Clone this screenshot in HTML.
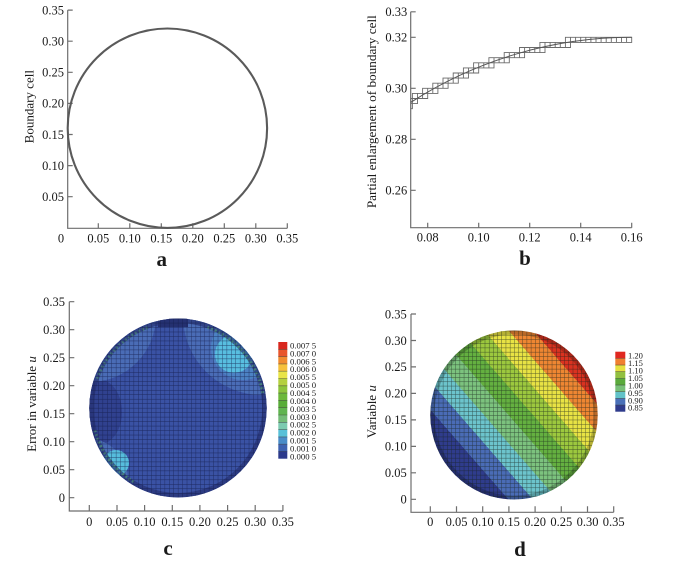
<!DOCTYPE html>
<html><head><meta charset="utf-8">
<style>
html,body{margin:0;padding:0;background:#fff;width:689px;height:563px;overflow:hidden}
svg{display:block}
text{font-family:"Liberation Serif",serif;fill:#1a1a1a}
.t{font-size:12.5px}
.ax{stroke:#6e6e6e;stroke-width:1.2;fill:none}
.lg{font-size:8.7px}
.ld{font-size:8.5px}
.big{font-size:21px;font-weight:bold}
</style></head>
<body>
<svg width="689" height="563" viewBox="0 0 689 563" xmlns="http://www.w3.org/2000/svg">
<defs>
  <clipPath id="cc"><ellipse cx="178" cy="408" rx="88.7" ry="89.5"/></clipPath>
  <clipPath id="cd"><ellipse cx="514" cy="415" rx="83.7" ry="84.5"/></clipPath>
  <clipPath id="cb"><rect x="410.7" y="0" width="230" height="228"/></clipPath>
  <pattern id="gc" patternUnits="userSpaceOnUse" x="89.3" y="318.3" width="4.43" height="4.48">
    <path d="M0 0H4.43M0 0V4.48" stroke="#121a48" stroke-width="0.9" stroke-opacity="0.75" fill="none"/>
  </pattern>
  <pattern id="gd" patternUnits="userSpaceOnUse" x="430.3" y="330.7" width="4.19" height="4.24">
    <path d="M0 0H4.19M0 0V4.24" stroke="#15201a" stroke-width="0.9" stroke-opacity="0.7" fill="none"/>
  </pattern>
  <linearGradient id="ud" gradientUnits="userSpaceOnUse" x1="450.65" y1="470.12" x2="577.35" y2="359.88">
    <stop offset="0" stop-color="#2f3c8c"/><stop offset="0.1446" stop-color="#2f3c8c"/>
    <stop offset="0.1446" stop-color="#4a6cb6"/><stop offset="0.2550" stop-color="#4a6cb6"/>
    <stop offset="0.2550" stop-color="#6cc4cc"/><stop offset="0.3651" stop-color="#6cc4cc"/>
    <stop offset="0.3651" stop-color="#7cc27e"/><stop offset="0.4753" stop-color="#7cc27e"/>
    <stop offset="0.4753" stop-color="#64b040"/><stop offset="0.5855" stop-color="#64b040"/>
    <stop offset="0.5855" stop-color="#9cc83e"/><stop offset="0.6957" stop-color="#9cc83e"/>
    <stop offset="0.6957" stop-color="#e8e244"/><stop offset="0.8059" stop-color="#e8e244"/>
    <stop offset="0.8059" stop-color="#ee8632"/><stop offset="0.9162" stop-color="#ee8632"/>
    <stop offset="0.9162" stop-color="#da3220"/><stop offset="1" stop-color="#da3220"/>
  </linearGradient>
</defs>

<!-- ================= Panel a ================= -->
<path class="ax" d="M67.7 10.1V228.3H287.3"/>
<path class="ax" d="M67.7 196.7h5M67.7 165.6h5M67.7 134.5h5M67.7 103.4h5M67.7 72.3h5M67.7 41.2h5M67.7 10.1h5
 M98.3 228.3v-5M129.8 228.3v-5M161.3 228.3v-5M192.8 228.3v-5M224.3 228.3v-5M255.8 228.3v-5M287.3 228.3v-5"/>
<g class="t" text-anchor="end">
<text x="64" y="201">0.05</text><text x="64" y="169.9">0.10</text><text x="64" y="138.8">0.15</text>
<text x="64" y="107.7">0.20</text><text x="64" y="76.6">0.25</text><text x="64" y="45.5">0.30</text><text x="64" y="14.4">0.35</text>
</g>
<g class="t" text-anchor="middle">
<text x="61" y="242.6">0</text><text x="98.3" y="242.6">0.05</text><text x="129.8" y="242.6">0.10</text><text x="161.3" y="242.6">0.15</text>
<text x="192.8" y="242.6">0.20</text><text x="224.3" y="242.6">0.25</text><text x="255.8" y="242.6">0.30</text><text x="287.3" y="242.6">0.35</text>
</g>
<text x="0" y="0" transform="translate(33.5,106.7) rotate(-90)" text-anchor="middle" font-size="13">Boundary cell</text>
<circle cx="167.4" cy="128.2" r="99.7" fill="none" stroke="#5a5a5a" stroke-width="2.1"/>
<text class="big" x="161.7" y="266" text-anchor="middle">a</text>

<!-- ================= Panel b ================= -->
<path class="ax" d="M410.7 11.8V227.7H631.7"/>
<path class="ax" d="M410.7 11.8h5M410.7 37.3h5M410.7 88.3h5M410.7 139.3h5M410.7 190.3h5
 M427.7 227.7v-5M478.7 227.7v-5M529.7 227.7v-5M580.7 227.7v-5M631.7 227.7v-5"/>
<g class="t" text-anchor="end">
<text x="407.3" y="16.1">0.33</text><text x="407.3" y="41.6">0.32</text><text x="407.3" y="92.6">0.30</text>
<text x="407.3" y="143.6">0.28</text><text x="407.3" y="194.6">0.26</text>
</g>
<g class="t" text-anchor="middle">
<text x="427.7" y="241.6">0.08</text><text x="478.7" y="241.6">0.10</text><text x="529.7" y="241.6">0.12</text>
<text x="580.7" y="241.6">0.14</text><text x="631.7" y="241.6">0.16</text>
</g>
<text x="0" y="0" transform="translate(376,111.7) rotate(-90)" text-anchor="middle" font-size="13" textLength="193" lengthAdjust="spacingAndGlyphs">Partial enlargement of boundary cell</text>
<g clip-path="url(#cb)">
<path fill="none" stroke="#6a6a6a" stroke-width="0.9" d="
M410.7 103.6h1.7v5.1h-1.7z M410.7 98.5h1.7v5.1h-1.7z
M412.4 98.5h5.1v5.1h-5.1z M412.4 93.4h5.1v5.1h-5.1z
M417.5 93.4h5.1v5.1h-5.1z
M422.6 93.4h5.1v5.1h-5.1z M422.6 88.3h5.1v5.1h-5.1z
M427.7 88.3h5.1v5.1h-5.1z
M432.8 88.3h5.1v5.1h-5.1z M432.8 83.2h5.1v5.1h-5.1z
M437.9 83.2h5.1v5.1h-5.1z
M443.0 83.2h5.1v5.1h-5.1z M443.0 78.1h5.1v5.1h-5.1z
M448.1 78.1h5.1v5.1h-5.1z
M453.2 78.1h5.1v5.1h-5.1z M453.2 73.0h5.1v5.1h-5.1z
M458.3 73.0h5.1v5.1h-5.1z
M463.4 73.0h5.1v5.1h-5.1z M463.4 67.9h5.1v5.1h-5.1z
M468.5 67.9h5.1v5.1h-5.1z
M473.6 67.9h5.1v5.1h-5.1z M473.6 62.8h5.1v5.1h-5.1z
M478.7 62.8h5.1v5.1h-5.1z
M483.8 62.8h5.1v5.1h-5.1z
M488.9 62.8h5.1v5.1h-5.1z M488.9 57.7h5.1v5.1h-5.1z
M494.0 57.7h5.1v5.1h-5.1z
M499.1 57.7h5.1v5.1h-5.1z
M504.2 57.7h5.1v5.1h-5.1z M504.2 52.6h5.1v5.1h-5.1z
M509.3 52.6h5.1v5.1h-5.1z
M514.4 52.6h5.1v5.1h-5.1z
M519.5 52.6h5.1v5.1h-5.1z M519.5 47.5h5.1v5.1h-5.1z
M524.6 47.5h5.1v5.1h-5.1z M529.7 47.5h5.1v5.1h-5.1z M534.8 47.5h5.1v5.1h-5.1z
M539.9 47.5h5.1v5.1h-5.1z M539.9 42.4h5.1v5.1h-5.1z
M545.0 42.4h5.1v5.1h-5.1z M550.1 42.4h5.1v5.1h-5.1z M555.2 42.4h5.1v5.1h-5.1z M560.3 42.4h5.1v5.1h-5.1z
M565.4 42.4h5.1v5.1h-5.1z M565.4 37.3h5.1v5.1h-5.1z
M570.5 37.3h5.1v5.1h-5.1z M575.6 37.3h5.1v5.1h-5.1z M580.7 37.3h5.1v5.1h-5.1z M585.8 37.3h5.1v5.1h-5.1z
M590.9 37.3h5.1v5.1h-5.1z M596.0 37.3h5.1v5.1h-5.1z M601.1 37.3h5.1v5.1h-5.1z M606.2 37.3h5.1v5.1h-5.1z
M611.3 37.3h5.1v5.1h-5.1z M616.4 37.3h5.1v5.1h-5.1z M621.5 37.3h5.1v5.1h-5.1z M626.6 37.3h5.1v5.1h-5.1z"/>
<path d="M410.7 102.4A408 408 0 0 1 631.7 37.3" fill="none" stroke="#555" stroke-width="1"/>
</g>
<text class="big" x="525" y="265" text-anchor="middle">b</text>

<!-- ================= Panel c ================= -->
<path class="ax" d="M69.3 301.7V511H282.9"/>
<path class="ax" d="M69.3 301.7h5M69.3 329.7h5M69.3 357.7h5M69.3 385.7h5M69.3 413.7h5M69.3 441.7h5M69.3 469.7h5M69.3 497.7h5
 M89.3 511v-6M117 511v-6M144.6 511v-6M172.3 511v-6M199.9 511v-6M227.6 511v-6M255.2 511v-6M282.9 511v-6"/>
<g class="t" text-anchor="end">
<text x="65" y="306">0.35</text><text x="65" y="334">0.30</text><text x="65" y="362">0.25</text><text x="65" y="390">0.20</text>
<text x="65" y="418">0.15</text><text x="65" y="446">0.10</text><text x="65" y="474">0.05</text><text x="65" y="502">0</text>
</g>
<g class="t" text-anchor="middle">
<text x="89.3" y="526">0</text><text x="117" y="526">0.05</text><text x="144.6" y="526">0.10</text><text x="172.3" y="526">0.15</text>
<text x="199.9" y="526">0.20</text><text x="227.6" y="526">0.25</text><text x="255.2" y="526">0.30</text><text x="282.9" y="526">0.35</text>
</g>
<text x="0" y="0" transform="translate(36,404) rotate(-90)" text-anchor="middle" font-size="13">Error in variable <tspan font-style="italic">u</tspan></text>

<ellipse cx="178" cy="408" rx="88.7" ry="89.5" fill="#3a52a4"/>
<g clip-path="url(#cc)">
  <ellipse cx="100" cy="412" rx="22" ry="32" fill="#2e3d8a" opacity="0.8"/>
  <circle cx="90" cy="316" r="66" fill="#4a6cb6"/>
  <circle cx="262" cy="316" r="79" fill="#4a6cb6"/>
  <circle cx="243" cy="348" r="32" fill="#4c82c4"/>
  <ellipse cx="234" cy="354" rx="19" ry="19" fill="#58bee0"/>
  <circle cx="86" cy="480" r="42" fill="#4a6cb6"/>
  <circle cx="116" cy="463" r="13" fill="#56bcdc"/>
  <rect x="158" y="315" width="30" height="12" fill="#243070"/>
  <ellipse cx="178" cy="408" rx="88.7" ry="89.5" fill="none" stroke="#263274" stroke-width="9" opacity="0.7"/>
  <path d="M97.2 378.6A86 86 0 0 1 148.6 327.2" fill="none" stroke="#4f9478" stroke-width="3" stroke-dasharray="2 2" opacity="0.6"/>
  <path d="M207.4 327.2A86 86 0 0 1 262.7 393.1" fill="none" stroke="#4f9478" stroke-width="3" stroke-dasharray="2 2" opacity="0.7"/>
  <path d="M94.9 430.3A86 86 0 0 0 135 482.5" fill="none" stroke="#4f9478" stroke-width="3" stroke-dasharray="2 2" opacity="0.7"/>
  <rect x="85" y="315" width="186" height="186" fill="url(#gc)"/>
</g>

<!-- legend c -->
<g>
<rect x="278.3" y="342" width="9" height="7.3" fill="#d8281e"/>
<rect x="278.3" y="349.3" width="9" height="7.3" fill="#e8552c"/>
<rect x="278.3" y="356.6" width="9" height="7.3" fill="#f08b30"/>
<rect x="278.3" y="363.9" width="9" height="7.3" fill="#f6c03c"/>
<rect x="278.3" y="371.2" width="9" height="7.3" fill="#e8e448"/>
<rect x="278.3" y="378.5" width="9" height="7.3" fill="#b4d040"/>
<rect x="278.3" y="385.8" width="9" height="7.3" fill="#8cc43c"/>
<rect x="278.3" y="393.1" width="9" height="7.3" fill="#6cb83a"/>
<rect x="278.3" y="400.4" width="9" height="7.3" fill="#58ac38"/>
<rect x="278.3" y="407.7" width="9" height="7.3" fill="#60b450"/>
<rect x="278.3" y="415" width="9" height="7.3" fill="#74bc78"/>
<rect x="278.3" y="422.3" width="9" height="7.3" fill="#7ccab0"/>
<rect x="278.3" y="429.6" width="9" height="7.3" fill="#58c0d8"/>
<rect x="278.3" y="436.9" width="9" height="7.3" fill="#4a8cc8"/>
<rect x="278.3" y="444.2" width="9" height="7.3" fill="#3e62b0"/>
<rect x="278.3" y="451.5" width="9" height="7.2" fill="#2c3a8c"/>
<path d="M278.3 349.3h9M278.3 356.6h9M278.3 363.9h9M278.3 371.2h9M278.3 378.5h9M278.3 385.8h9M278.3 393.1h9M278.3 400.4h9M278.3 407.7h9M278.3 415h9M278.3 422.3h9M278.3 429.6h9M278.3 436.9h9M278.3 444.2h9M278.3 451.5h9" stroke="#333" stroke-width="0.6" opacity="0.7"/>
</g>
<g class="lg">
<text x="290" y="348.4">0.007 5</text><text x="290" y="356.3">0.007 0</text><text x="290" y="364.3">0.006 5</text>
<text x="290" y="372.2">0.006 0</text><text x="290" y="380.1">0.005 5</text><text x="290" y="388">0.005 0</text>
<text x="290" y="396">0.004 5</text><text x="290" y="403.9">0.004 0</text><text x="290" y="411.8">0.003 5</text>
<text x="290" y="419.8">0.003 0</text><text x="290" y="427.7">0.002 5</text><text x="290" y="435.6">0.002 0</text>
<text x="290" y="443.5">0.001 5</text><text x="290" y="451.5">0.001 0</text><text x="290" y="459.4">0.000 5</text>
</g>
<text class="big" x="168" y="555" text-anchor="middle">c</text>

<!-- ================= Panel d ================= -->
<path class="ax" d="M411 314V512.3H613.7"/>
<path class="ax" d="M411 314h5M411 340.5h5M411 366.9h5M411 393.4h5M411 419.9h5M411 446.4h5M411 472.8h5M411 499.3h5
 M430.3 512.3v-6M456.5 512.3v-6M482.7 512.3v-6M508.9 512.3v-6M535.1 512.3v-6M561.3 512.3v-6M587.5 512.3v-6M613.7 512.3v-6"/>
<g class="t" text-anchor="end">
<text x="406.7" y="318.3">0.35</text><text x="406.7" y="344.8">0.30</text><text x="406.7" y="371.2">0.25</text><text x="406.7" y="397.7">0.20</text>
<text x="406.7" y="424.2">0.15</text><text x="406.7" y="450.7">0.10</text><text x="406.7" y="477.1">0.05</text><text x="406.7" y="503.6">0</text>
</g>
<g class="t" text-anchor="middle">
<text x="430.3" y="526">0</text><text x="456.5" y="526">0.05</text><text x="482.7" y="526">0.10</text><text x="508.9" y="526">0.15</text>
<text x="535.1" y="526">0.20</text><text x="561.3" y="526">0.25</text><text x="587.5" y="526">0.30</text><text x="613.7" y="526">0.35</text>
</g>
<text x="0" y="0" transform="translate(376,411.7) rotate(-90)" text-anchor="middle" font-size="13">Variable <tspan font-style="italic">u</tspan></text>

<ellipse cx="514" cy="415" rx="83.7" ry="84.5" fill="url(#ud)"/>
<g clip-path="url(#cd)">
  <ellipse cx="514" cy="415" rx="83.7" ry="84.5" fill="none" stroke="#000" stroke-width="8" opacity="0.22"/>
  <rect x="428" y="328" width="175" height="175" fill="url(#gd)"/>
</g>

<!-- legend d -->
<g>
<rect x="615.3" y="351.7" width="10" height="6.67" fill="#e02820"/>
<rect x="615.3" y="358.37" width="10" height="6.67" fill="#f08030"/>
<rect x="615.3" y="365.04" width="10" height="6.67" fill="#e6e040"/>
<rect x="615.3" y="371.71" width="10" height="6.67" fill="#92c040"/>
<rect x="615.3" y="378.38" width="10" height="6.67" fill="#5aaa3c"/>
<rect x="615.3" y="385.05" width="10" height="6.67" fill="#78c078"/>
<rect x="615.3" y="391.72" width="10" height="6.67" fill="#62c2c8"/>
<rect x="615.3" y="398.39" width="10" height="6.67" fill="#4a70b8"/>
<rect x="615.3" y="405.06" width="10" height="6.64" fill="#2f3b8c"/>
<path d="M615.3 358.37h10M615.3 365.04h10M615.3 371.71h10M615.3 378.38h10M615.3 385.05h10M615.3 391.72h10M615.3 398.39h10M615.3 405.06h10" stroke="#333" stroke-width="0.6" opacity="0.7"/>
</g>
<g class="ld">
<text x="628" y="358.7">1.20</text><text x="628" y="366.1">1.15</text><text x="628" y="373.6">1.10</text>
<text x="628" y="381">1.05</text><text x="628" y="388.4">1.00</text><text x="628" y="395.9">0.95</text>
<text x="628" y="403.3">0.90</text><text x="628" y="410.7">0.85</text>
</g>
<text class="big" x="520" y="556" text-anchor="middle">d</text>
</svg>
</body></html>
